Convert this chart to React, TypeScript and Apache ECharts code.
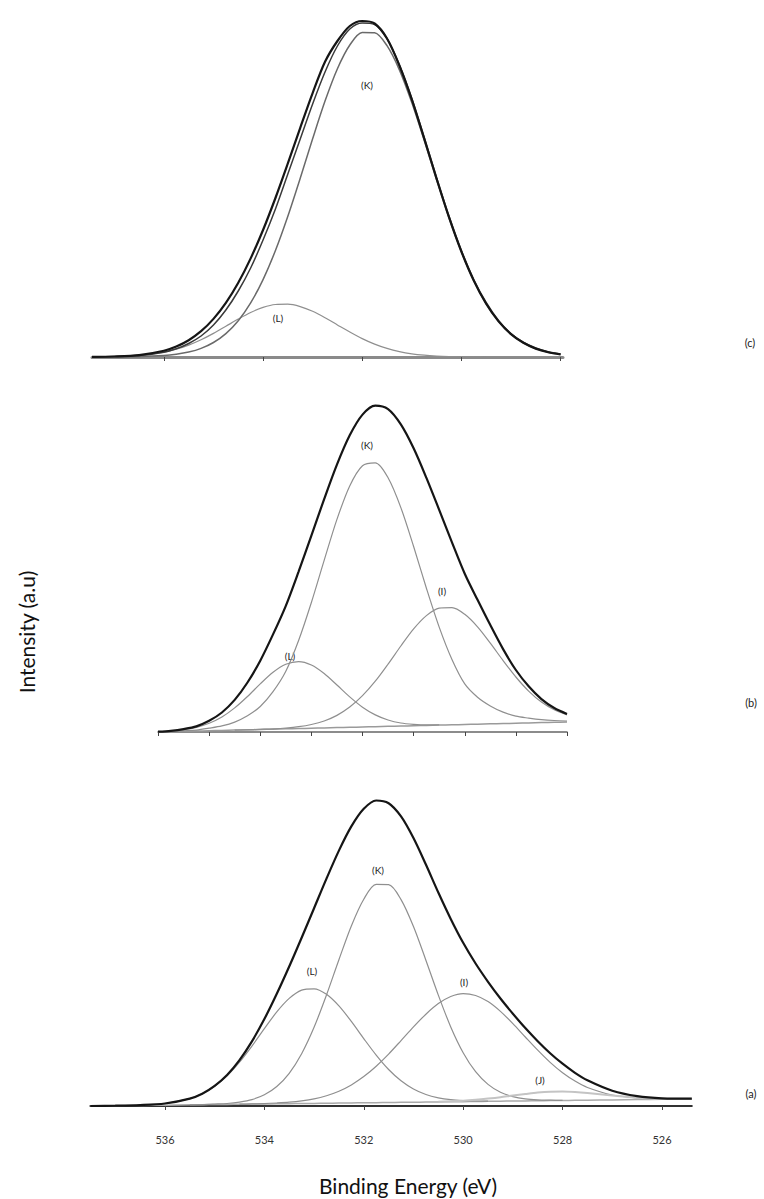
import React, { useEffect, useRef } from "react";
import * as echarts from "echarts";

// ---------- Panel (c) ----------
const energyC = [537.45, 537, 536.5, 536, 535.75, 535.5, 535.25, 535, 534.75, 534.5, 534.25, 534, 533.75, 533.5, 533.25, 533, 532.75, 532.5, 532.25, 532, 531.75, 531.5, 531.25, 531, 530.75, 530.5, 530.25, 530, 529.75, 529.5, 529.25, 529, 528.75, 528.5, 528.25, 528];
const totalC = [0.12, 0.52, 1.95, 6.3, 10.5, 16.8, 25.8, 38.1, 54.1, 74.2, 98.6, 127.0, 159.0, 193.6, 229.2, 263.9, 295.2, 316, 331, 336, 333.5, 318.5, 291.5, 257.6, 218.6, 178.3, 139.8, 105.5, 76.4, 53.2, 35.6, 22.9, 14.2, 8.4, 4.8, 2.6];
const rawC = [0, 0.4, 1.5, 4.8, 8.2, 13.5, 21, 32, 47, 66, 89, 117, 148, 183, 218, 253, 285, 311, 328, 334, 332.5, 318.5, 292, 258.5, 219.5, 179.5, 141, 106.5, 77.5, 54.5, 36.5, 23.5, 14.8, 9, 5.2, 3];
const kC = [0, 0.07, 0.35, 1.4, 2.7, 4.9, 8.6, 14.5, 23.4, 36.3, 54.1, 77.4, 106.5, 140.8, 178.8, 218.2, 255.9, 288.3, 312.0, 324.5, 324.2, 311.3, 287.1, 254.4, 216.7, 177.3, 139.3, 105.2, 76.3, 53.2, 35.6, 22.9, 14.2, 8.4, 4.8, 2.6];
const lC = [0.12, 0.45, 1.6, 4.9, 7.8, 11.9, 17.2, 23.6, 30.7, 37.9, 44.5, 49.6, 52.5, 52.8, 50.4, 45.7, 39.3, 32.1, 25.0, 18.4, 12.9, 8.6, 5.4, 3.2, 1.85, 1.0, 0.5, 0.25, 0.1, 0, 0, 0, 0, 0, 0, 0];

// ---------- Panel (b) ----------
const energyB = [536, 535.75, 535.5, 535.25, 535, 534.75, 534.5, 534.25, 534, 533.75, 533.5, 533.25, 533, 532.75, 532.5, 532.25, 532, 531.75, 531.5, 531.25, 531, 530.75, 530.5, 530.25, 530, 529.75, 529.5, 529.25, 529, 528.75, 528.5, 528.25, 528];
const totalB = [0.3, 1.2, 2.9, 5.6, 11.2, 19.5, 32.1, 49.5, 71.3, 97.6, 126.2, 160.4, 196.4, 232.9, 267.4, 296.7, 317.4, 326.4, 322.9, 307.6, 283.7, 254.1, 222.1, 189.7, 158.3, 132.2, 106.9, 82.9, 62.0, 45.7, 32.9, 24.0, 18.1];
const kB = [0, 0.5, 1.2, 1.9, 3.8, 6.1, 9.9, 16.2, 25.5, 40.3, 60.7, 91.5, 129.5, 171.6, 212.6, 246.1, 266.3, 269.1, 254.2, 224.4, 185.5, 143.8, 104.9, 72.5, 48.1, 34.8, 26.1, 19.9, 15.8, 13.9, 12.4, 11.5, 11.0];
const iB = [null, null, null, null, null, null, 1.9, 2.2, 2.7, 3.2, 4.0, 5.3, 7.5, 11.0, 16.6, 24.9, 36.3, 50.8, 67.9, 86.0, 103.1, 116.4, 123.9, 124.4, 117.7, 105.2, 88.9, 71.4, 55.0, 40.9, 29.9, 22.2, 17.1];
const lB = [0.3, 1.0, 2.3, 4.6, 8.7, 15.0, 24.1, 35.5, 48.1, 59.7, 67.7, 70.4, 67.0, 58.5, 47.0, 35.1, 24.8, 17.1, 12.0, 9.0, 7.7, 7.1, 7.1, null, null, null, null, null, null, null, null, null, null];
const bgB = [0, 0.31, 0.63, 0.94, 1.25, 1.56, 1.88, 2.19, 2.5, 2.81, 3.13, 3.44, 3.75, 4.06, 4.38, 4.69, 5.0, 5.31, 5.63, 5.94, 6.25, 6.56, 6.88, 7.19, 7.5, 7.81, 8.13, 8.44, 8.75, 9.06, 9.38, 9.69, 10];

// ---------- Panel (a) ----------
const energyA = [537.5, 537, 536.5, 536, 535.5, 535.25, 535, 534.75, 534.5, 534.25, 534, 533.75, 533.5, 533.25, 533, 532.75, 532.5, 532.25, 532, 531.75, 531.5, 531.25, 531, 530.75, 530.5, 530.25, 530, 529.75, 529.5, 529.25, 529, 528.75, 528.5, 528.25, 528, 527.75, 527.5, 527, 526.5, 526, 525.4];
const totalA = [0, 0.3, 0.9, 2.5, 7.4, 12.3, 20.1, 31.0, 45.9, 64.6, 86.9, 112.2, 139.5, 168.3, 197.8, 227.4, 255.4, 279.6, 297.2, 305.5, 302.8, 289.6, 268.0, 241.5, 213.5, 187.1, 163.2, 142.5, 124.2, 107.5, 92.3, 77.9, 64.8, 52.8, 42.3, 33.2, 25.7, 15.3, 9.9, 7.7, 7.3];
const lA = [null, 0.3, 0.9, 2.5, 7.4, 12.2, 19.7, 30.1, 43.8, 59.9, 77.3, 94.1, 107.6, 115.9, 117.2, 111.7, 100.1, 84.6, 67.4, 50.9, 36.5, 25.2, 17.0, 11.5, 8.2, 6.3, 5.4, 5.0, 4.9, null, null, null, null, null, null, null, null, null, null, null, null];
const kA = [null, null, null, null, 1.2, 1.4, 1.9, 2.5, 3.9, 6.4, 11.2, 19.5, 32.7, 52.3, 78.7, 111.0, 146.3, 180.1, 206.8, 221.6, 221.4, 206.4, 179.5, 145.8, 110.9, 79.1, 53.3, 34.3, 21.6, 13.7, 9.4, 7.1, 6.1, 5.8, 5.6, null, null, null, null, null, null];
const iA = [null, null, null, null, null, null, null, null, 1.8, 2.1, 2.4, 3.0, 3.8, 5.1, 7.1, 10.3, 14.8, 21.1, 29.4, 39.8, 51.9, 65.4, 79.1, 91.8, 102.4, 109.5, 112.4, 110.5, 104.4, 94.6, 82.4, 69.0, 55.8, 43.6, 33.2, 24.9, 18.5, 11.0, 8.0, 7.1, 7.1];
const jA = [null, null, null, null, null, null, null, null, null, null, null, null, null, null, null, null, null, null, null, null, null, null, null, null, 4.3, 4.8, 5.3, 6.2, 7.4, 8.8, 10.5, 12.0, 13.4, 14.3, 14.5, 14.0, 13.0, 10.4, 8.3, 7.3, 7.2];
const bgA = [0, 0.29, 0.58, 0.875, 1.17, 1.31, 1.46, 1.6, 1.75, 1.9, 2.04, 2.19, 2.33, 2.48, 2.625, 2.77, 2.92, 3.06, 3.21, 3.35, 3.5, 3.65, 3.79, 3.94, 4.08, 4.23, 4.375, 4.52, 4.67, 4.81, 4.96, 5.1, 5.25, 5.4, 5.54, 5.69, 5.83, 6.125, 6.42, 6.71, 7.06];

// ---------- Ticks ----------
const ticksC = [528, 530, 532, 534, 536];
const ticksB = [528, 529, 530, 531, 532, 533, 534, 535, 536];
const ticksA = [526, 528, 530, 532, 534, 536];

const FONT = "Lato, 'Open Sans', sans-serif";

function pairs(xs: number[], ys: (number | null)[]) {
  return xs.map((x, i) => [x, ys[i] == null ? "-" : ys[i]]);
}

function line(name: string, idx: number, xs: number[], ys: (number | null)[], color: string, width: number, z = 2) {
  return {
    name,
    type: "line",
    xAxisIndex: idx,
    yAxisIndex: idx,
    data: pairs(xs, ys),
    smooth: 0.3,
    showSymbol: false,
    symbol: "none",
    connectNulls: false,
    lineStyle: { color, width },
    z,
    silent: true,
  };
}

export default function App() {
  const ref = useRef<HTMLDivElement>(null);
  useEffect(() => {
    document.body.style.margin = "0";
    const chart = echarts.init(ref.current!, null, { renderer: "svg" });
    const xAxisBase = (idx: number, min: number, max: number, ticks: number[], showLabels: boolean, lineColor: string, lineWidth: number) => ({
      type: "value",
      gridIndex: idx,
      min,
      max,
      inverse: true,
      splitLine: { show: false },
      axisLine: { show: true, onZero: false, lineStyle: { color: lineColor, width: lineWidth } },
      axisTick: { show: true, inside: false, length: 4, customValues: ticks, lineStyle: { color: "#444", width: 1 } },
      axisLabel: showLabels
        ? { show: true, customValues: ticks, margin: 28, fontSize: 11, color: "#333", fontFamily: FONT }
        : { show: false },
    });
    const yAxisBase = (idx: number, max: number) => ({
      type: "value",
      gridIndex: idx,
      min: 0,
      max,
      show: false,
    });
    const grey = "#8f8f8f";
    const black = "#151515";
    const label = (text: string, x: number, y: number, size = 10) => ({
      type: "text",
      x,
      y,
      style: { text, fill: "#222", font: `${size}px ${FONT}`, textAlign: "center", textVerticalAlign: "middle" },
    });
    const option = {
      animation: false,
      backgroundColor: "#ffffff",
      grid: [
        { left: 92, top: 10, width: 471, height: 347 },
        { left: 158, top: 390, width: 409, height: 342 },
        { left: 90.4, top: 780, width: 601.4, height: 326 },
      ],
      xAxis: [
        xAxisBase(0, 527.95, 537.45, ticksC, false, "#8a8a8a", 3),
        xAxisBase(1, 528, 536, ticksB, false, "#666", 1.5),
        xAxisBase(2, 525.4, 537.5, ticksA, true, "#333", 2),
      ],
      yAxis: [yAxisBase(0, 347), yAxisBase(1, 342), yAxisBase(2, 326)],
      series: [
        // (c)
        line("c-L", 0, energyC, lC, grey, 1.2),
        line("c-K", 0, energyC, kC, "#6a6a6a", 1.5),
        line("c-raw", 0, energyC, rawC, "#3a3a3a", 1.5, 3),
        line("c-total", 0, energyC, totalC, black, 2.2, 4),
        // (b)
        line("b-bg", 1, energyB, bgB, "#9a9a9a", 1.5),
        line("b-L", 1, energyB, lB, grey, 1.2),
        line("b-K", 1, energyB, kB, grey, 1.2),
        line("b-I", 1, energyB, iB, grey, 1.2),
        line("b-total", 1, energyB, totalB, black, 2.2, 4),
        // (a)
        line("a-bg", 2, energyA, bgA, "#aaaaaa", 1.5),
        line("a-L", 2, energyA, lA, grey, 1.2),
        line("a-K", 2, energyA, kA, grey, 1.2),
        line("a-I", 2, energyA, iA, grey, 1.2),
        line("a-J", 2, energyA, jA, "#c4c4c4", 2),
        line("a-total", 2, energyA, totalA, black, 2.2, 4),
      ],
      graphic: [
        label("(K)", 367, 85),
        label("(L)", 278, 318),
        label("(K)", 367, 445),
        label("(I)", 442, 591),
        label("(L)", 290, 656),
        label("(L)", 312, 971),
        label("(K)", 378, 870),
        label("(I)", 464, 982),
        label("(J)", 540, 1080),
        label("(c)", 750, 342, 11),
        label("(b)", 751, 702, 11),
        label("(a)", 751, 1093, 11),
        {
          type: "text",
          x: 26,
          y: 632,
          rotation: Math.PI / 2,
          style: { text: "Intensity (a.u)", fill: "#111", font: `21px ${FONT}`, textAlign: "center", textVerticalAlign: "middle" },
        },
        {
          type: "text",
          x: 408,
          y: 1185,
          style: { text: "Binding Energy (eV)", fill: "#111", font: `21px ${FONT}`, textAlign: "center", textVerticalAlign: "middle" },
        },
      ],
    };
    chart.setOption(option as any);
    return () => chart.dispose();
  }, []);
  return <div ref={ref} style={{ width: 764, height: 1199 }} />;
}
